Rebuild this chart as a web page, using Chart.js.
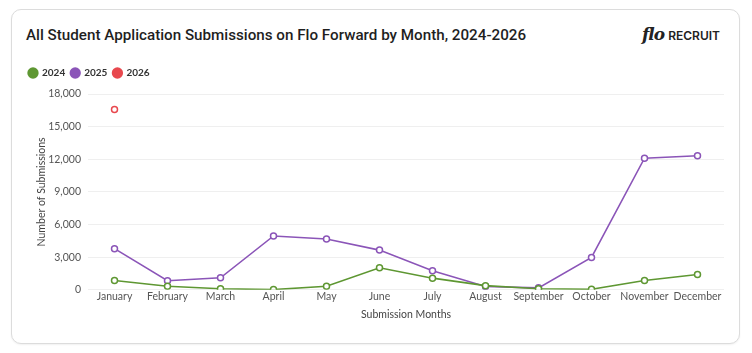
<!DOCTYPE html>
<html>
<head>
<meta charset="utf-8">
<script src="https://cdn.jsdelivr.net/npm/chart.js@4"></script>
<style>
  html, body { margin: 0; padding: 0; background: #fff; width: 752px; height: 353px; overflow: hidden; }
  .card { position: absolute; left: 11px; top: 9px; width: 727px; height: 333px; border: 1px solid #dcdcdc; border-radius: 10px; box-shadow: 0 1px 2px rgba(0,0,0,0.06); background: #fff; }
  .title { position: absolute; left: 26px; top: 26px; font-family: Roboto, sans-serif; font-size: 15.2px; font-weight: 500; color: #1f1f1f; white-space: nowrap; }
  .logo { position: absolute; left: 642px; top: 24px; white-space: nowrap; color: #222; }
  .logo .flo { font-family: "DejaVu Serif", "Liberation Serif", serif; font-style: italic; font-weight: bold; font-size: 17px; letter-spacing: -1px; }
  .logo .rec { font-family: Inter, sans-serif; font-weight: 600; font-size: 12px; margin-left: 4px; }
  .wrap { position: absolute; left: 23px; top: 62px; width: 711px; height: 259px; }
</style>
</head>
<body>
<div class="card"></div>
<div class="title">All Student Application Submissions on Flo Forward by Month, 2024-2026</div>
<div class="logo"><span class="flo">flo</span><span class="rec">RECRUIT</span></div>
<div class="wrap"><canvas id="c"></canvas></div>
<script>
const months = ["January","February","March","April","May","June","July","August","September","October","November","December"];
const seriesNames = ["2024","2025","2026"];
const values2024 = [860, 330, 90, 20, 330, 2030, 1070, 380, 90, 50, 860, 1410];
const values2025 = [3780, 830, 1100, 4950, 4670, 3650, 1750, 300, 180, 2980, 12100, 12330];
const values2026 = [16580, null, null, null, null, null, null, null, null, null, null, null];
const colors = ["#5e9732", "#8b55b8", "#e8484e"];
const yTicksMax = 18000;
const yStep = 3000;

const allValues = [values2024, values2025, values2026];
const datasets = seriesNames.map((name, i) => ({
  label: name,
  data: allValues[i],
  borderColor: colors[i],
  backgroundColor: "#ffffff",
  pointBackgroundColor: "#ffffff",
  pointBorderColor: colors[i],
  pointRadius: 3,
  pointHoverRadius: 3,
  pointBorderWidth: 1.5,
  borderWidth: 1.6,
  tension: 0,
  spanGaps: false
}));

const legendGap = {
  id: "legendGap",
  beforeInit(chart) {
    const orig = chart.legend.fit;
    chart.legend.fit = function () {
      orig.call(this);
      this.height += 6;
    };
  }
};

new Chart(document.getElementById("c"), {
  type: "line",
  data: { labels: months, datasets },
  plugins: [legendGap],
  options: {
    responsive: true,
    maintainAspectRatio: false,
    animation: false,
    layout: { padding: { left: 0, right: 10, top: 0, bottom: 0 } },
    plugins: {
      tooltip: { enabled: false },
      legend: {
        display: true,
        position: "top",
        align: "start",
        labels: {
          usePointStyle: true,
          pointStyle: "circle",
          boxWidth: 8,
          boxHeight: 8,
          padding: 6,
          color: "#333",
          font: { family: "Lato", size: 10, weight: "bold" },
          generateLabels: (chart) => chart.data.datasets.map((d, i) => ({
            text: d.label,
            fillStyle: colors[i],
            strokeStyle: colors[i],
            lineWidth: 0,
            pointStyle: "circle",
            hidden: false,
            datasetIndex: i,
            fontColor: "#333"
          }))
        }
      }
    },
    scales: {
      x: {
        offset: true,
        grid: { display: false, drawTicks: false },
        border: { display: false },
        ticks: { color: "#555", font: { family: "Lato", size: 10.5 }, maxRotation: 0, autoSkip: false, padding: 1 },
        title: { display: true, text: "Submission Months", color: "#444", font: { family: "Lato", size: 10.5 }, padding: { top: 4, bottom: 0 } }
      },
      y: {
        min: 0,
        max: yTicksMax,
        afterFit: (scale) => { scale.width = 65; },
        grid: { color: "#efefef", lineWidth: 1, drawTicks: false },
        border: { display: false },
        ticks: {
          stepSize: yStep,
          color: "#555",
          font: { family: "Lato", size: 10.5 },
          padding: 7,
          callback: (v) => v.toLocaleString("en-US")
        },
        title: { display: true, text: "Number of Submissions", color: "#444", font: { family: "Lato", size: 10.5 }, padding: { top: 12, bottom: 0 } }
      }
    }
  }
});
</script>
</body>
</html>
